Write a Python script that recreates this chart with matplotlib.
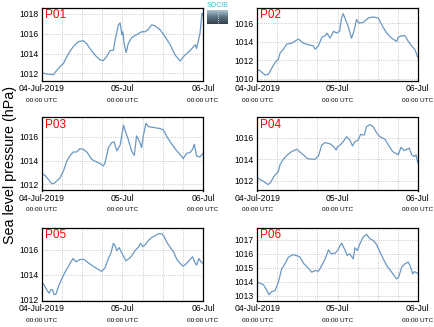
import matplotlib
matplotlib.use('Agg')
import matplotlib.pyplot as plt
import matplotlib.transforms as mtransforms
from matplotlib.colors import LinearSegmentedColormap
import numpy as np

plt.rcParams['font.family'] = ['Liberation Sans', 'DejaVu Sans']

# hours since 04-Jul-2019 00:00 UTC, pressure in hPa
p01_h = [0, 1.4, 3.4, 3.9, 5.4, 6.4, 7.4, 8.3, 9.3, 10.8, 12.3, 13.3, 14.3, 15.8, 17.3, 18.3,
         19.3, 20.3, 21.3, 21.8, 22.8, 23.3, 23.8, 24.1, 24.5, 25.1, 25.7, 26.7, 27.7, 28.7,
         29.7, 30.7, 31.7, 32.7, 33.7, 35.2, 36.7, 38.2, 39.7, 41.2, 42.2, 43.2, 44.7, 45.7,
         46.1, 47.1, 47.7, 48]
p01_v = [1012.07, 1011.93, 1011.87, 1012.1, 1012.7, 1013.0, 1013.7, 1014.2, 1014.7, 1015.2,
         1015.3, 1015.0, 1014.5, 1013.85, 1013.35, 1013.3, 1013.7, 1014.3, 1014.35, 1015.4,
         1016.9, 1017.1, 1015.9, 1016.2, 1015.0, 1014.1, 1015.0, 1015.6, 1015.8, 1016.0,
         1016.2, 1016.2, 1016.45, 1016.9, 1016.8, 1016.4, 1015.7, 1014.9, 1013.85, 1013.25,
         1013.7, 1014.0, 1014.5, 1014.9, 1014.5, 1016.05, 1018.05, 1017.9]

p02_h = [0, 0.8, 2.3, 3.3, 4.3, 5.3, 6.3, 6.8, 7.8, 8.8, 10.3, 12.3, 13.8, 15.3, 16.8, 17.3,
         18.3, 18.8, 19.3, 20.3, 20.8, 21.8, 22.8, 23.8, 24.6, 25.2, 25.7, 26.2, 27.2, 28.2,
         28.9, 29.7, 30.5, 31.7, 33.2, 34.7, 36.2, 37.5, 38.7, 40.2, 41.7, 42.2, 43.2, 44.2,
         45.2, 46.2, 47.2, 48]
p02_v = [1010.97, 1010.9, 1010.43, 1010.5, 1011.15, 1011.77, 1012.13, 1012.78, 1013.2, 1013.75,
         1013.86, 1014.3, 1013.86, 1013.68, 1013.57, 1013.2, 1013.57, 1014.04, 1014.5, 1014.66,
         1014.95, 1014.4, 1015.13, 1014.95, 1015.13, 1016.57, 1017.04, 1016.57, 1015.67, 1014.4,
         1015.13, 1016.4, 1016.03, 1016.1, 1016.57, 1016.68, 1016.57, 1015.67, 1014.95, 1014.4,
         1014.04, 1014.5, 1014.66, 1014.66, 1014.04, 1013.57, 1013.14, 1012.35]

p03_h = [0, 0.9, 1.9, 2.9, 3.4, 4.4, 5.4, 6.4, 7.4, 8.3, 9.3, 10.3, 11.3, 12.3, 13.5, 14.8,
         16.3, 17.3, 18.3, 18.8, 19.8, 20.8, 21.5, 22.3, 23.3, 24.3, 24.8, 25.7, 26.7, 27.5,
         28.2, 29.0, 29.7, 30.2, 31.0, 31.7, 33.2, 35.2, 36.2, 37.2, 38.7, 40.2, 41.7, 42.1,
         43.1, 44.1, 44.9, 45.4, 46.1, 47.1, 48]
p03_v = [1012.93, 1012.76, 1012.42, 1012.08, 1012.06, 1012.28, 1012.56, 1013.13, 1013.97,
         1014.39, 1014.73, 1014.73, 1015.01, 1014.96, 1014.68, 1014.11, 1013.89, 1013.75,
         1013.55, 1013.83, 1015.1, 1015.52, 1015.58, 1014.82, 1015.3, 1016.99, 1016.51,
         1015.8, 1014.82, 1014.45, 1016.08, 1015.66, 1015.1, 1016.08, 1017.15, 1016.87,
         1016.79, 1016.7, 1016.59, 1016.03, 1015.38, 1014.82, 1014.34, 1014.17, 1014.62,
         1014.68, 1014.96, 1015.38, 1014.39, 1014.31, 1014.62]

p04_h = [0, 0.8, 1.8, 3.3, 4.0, 5.0, 6.3, 6.8, 7.8, 9.0, 10.3, 11.8, 12.6, 13.8, 14.8, 15.8,
         17.3, 18.3, 19.3, 20.3, 21.8, 22.8, 23.6, 24.0, 24.8, 25.7, 26.7, 27.7, 28.5, 29.2,
         30.2, 30.9, 32.0, 32.7, 33.7, 34.7, 35.7, 36.7, 38.2, 39.2, 40.5, 41.7, 42.2, 43.0,
         43.9, 44.7, 45.5, 46.2, 47.0, 47.5, 48]
p04_v = [1012.31, 1012.09, 1011.94, 1011.63, 1011.85, 1012.4, 1012.86, 1013.48, 1014.0,
         1014.4, 1014.71, 1014.92, 1014.71, 1014.4, 1014.09, 1014.0, 1014.0, 1014.31, 1015.32,
         1015.54, 1015.42, 1015.17, 1014.86, 1015.17, 1015.32, 1015.63, 1016.09, 1015.78,
         1015.23, 1015.63, 1015.78, 1016.31, 1016.25, 1017.02, 1017.23, 1017.02, 1016.46,
         1016.09, 1015.85, 1015.32, 1014.71, 1014.49, 1014.4, 1015.11, 1014.8, 1014.92,
         1015.02, 1014.4, 1014.25, 1014.4, 1013.69]

p05_h = [0, 0.7, 1.4, 2.1, 2.6, 3.1, 3.6, 4.2, 4.9, 5.9, 6.9, 7.9, 8.6, 9.3, 10.1, 11.3, 12.5,
         13.8, 15.3, 16.8, 17.8, 18.8, 19.8, 20.5, 21.3, 21.8, 22.3, 23.0, 23.6, 24.3, 25.0,
         26.0, 26.7, 27.7, 28.7, 29.4, 30.0, 30.7, 31.7, 32.7, 33.7, 34.7, 35.7, 36.4, 37.2,
         38.2, 39.2, 40.2, 41.2, 42.1, 43.1, 44.1, 44.9, 45.6, 46.1, 46.8, 47.4, 48]
p05_v = [1013.42, 1013.15, 1012.81, 1012.54, 1012.81, 1012.83, 1012.43, 1012.48, 1013.07,
         1013.69, 1014.23, 1014.68, 1015.03, 1015.3, 1015.03, 1015.22, 1015.22, 1014.95,
         1014.68, 1014.42, 1014.28, 1014.55, 1015.3, 1015.7, 1016.51, 1016.3, 1015.92, 1016.16,
         1015.84, 1015.49, 1015.11, 1015.3, 1015.49, 1015.92, 1016.19, 1016.51, 1016.24,
         1016.38, 1016.72, 1016.97, 1017.1, 1017.26, 1017.26, 1017.05, 1016.59, 1016.19,
         1015.84, 1015.22, 1014.9, 1014.68, 1014.9, 1015.22, 1015.44, 1014.95, 1014.77,
         1015.3, 1015.03, 1014.9]

p06_h = [0, 0.8, 1.8, 2.8, 3.5, 4.3, 5.3, 6.3, 7.3, 8.3, 9.3, 10.6, 11.8, 12.8, 13.8, 15.0,
         16.3, 17.3, 18.3, 19.3, 20.3, 21.3, 22.0, 23.3, 24.0, 25.2, 26.2, 26.9, 27.7, 28.7,
         29.2, 30.0, 30.7, 31.7, 32.7, 33.7, 34.7, 35.7, 37.2, 38.7, 40.2, 41.7, 42.3, 43.2,
         44.2, 45.2, 45.9, 46.5, 47.0, 48]
p06_v = [1013.96, 1013.89, 1013.79, 1013.41, 1013.07, 1013.29, 1013.36, 1013.96, 1014.92,
         1015.28, 1015.75, 1015.93, 1015.87, 1015.75, 1015.32, 1015.04, 1014.68, 1014.8,
         1014.75, 1015.16, 1015.63, 1016.28, 1016.0, 1016.04, 1016.23, 1016.76, 1016.28,
         1015.87, 1016.0, 1015.63, 1016.43, 1016.23, 1016.71, 1017.19, 1017.38, 1017.07,
         1016.95, 1016.66, 1015.87, 1015.16, 1014.68, 1014.2, 1014.32, 1015.04, 1015.28,
         1015.4, 1015.04, 1014.56, 1014.72, 1014.6]

stations = ['P01', 'P02', 'P03', 'P04', 'P05', 'P06']
series = [(p01_h, p01_v), (p02_h, p02_v), (p03_h, p03_v),
          (p04_h, p04_v), (p05_h, p05_v), (p06_h, p06_v)]
yticks = [[1012, 1014, 1016, 1018], [1010, 1012, 1014, 1016], [1012, 1014, 1016],
          [1012, 1014, 1016], [1012, 1014, 1016], [1013, 1014, 1015, 1016, 1017]]
ylims = [(1011.23, 1018.6), (1009.78, 1017.65), (1011.49, 1017.63),
         (1011.08, 1017.88), (1011.92, 1017.72), (1012.62, 1017.84)]
date_labels = {0: '04-Jul-2019', 24: '05-Jul', 48: '06-Jul'}

fig = plt.figure(figsize=(4.35, 3.27), dpi=100)
W, H = 435.0, 327.0
lefts = [42, 257.3]
tops = [8, 117.5, 228]
ax_w = [161, 160.4]
ax_h = 73

for i, name in enumerate(stations):
    row, col = divmod(i, 2)
    ax = fig.add_axes([lefts[col] / W, 1 - (tops[row] + ax_h) / H, ax_w[col] / W, ax_h / H])
    h, v = series[i]
    ax.plot(h, v, color='#6a98c4', lw=0.9)
    ax.set_xlim(0, 48)
    ax.set_ylim(*ylims[i])
    xt = list(range(0, 49, 6))
    ax.set_xticks(xt)
    ax.set_xticklabels([date_labels.get(t, '') for t in xt], fontsize=6.2)
    ax.set_yticks(yticks[i])
    ax.set_yticklabels([str(t) for t in yticks[i]], fontsize=6.2)
    ax.tick_params(direction='in', length=0, pad=2.5)
    ax.grid(True, linestyle=':', color='#b8b8b8', lw=0.6)
    for s in ax.spines.values():
        s.set_linewidth(0.9)
    trans = mtransforms.blended_transform_factory(ax.transData, ax.transAxes)
    for t in date_labels:
        ax.text(t, -0.23, '00:00 UTC', transform=trans, ha='center', va='top', fontsize=4.6)
    ax.text(0.018, 0.985, name, transform=ax.transAxes, ha='left', va='top',
            fontsize=8.5, color='red')

fig.text(10 / W, 1 - 165 / H, 'Sea level pressure (hPa)', rotation=90,
         ha='center', va='center', fontsize=10.3)

# small logo block next to the first panel
logo = fig.add_axes([207 / W, 1 - 24 / H, 21 / W, 14 / H])
cmap = LinearSegmentedColormap.from_list('logo', ['#a9c4cf', '#5b7280', '#34444e'])
logo.imshow(np.linspace(0, 1, 20).reshape(-1, 1), aspect='auto', cmap=cmap)
logo.plot([0, 0], [4, 18], color='white', ls=':', lw=0.6)
logo.set_xlim(-0.5, 0.5)
logo.axis('off')
fig.text(217.5 / W, 1 - 5.5 / H, 'SOCIB', ha='center', va='center', fontsize=5,
         color='#3cc0d8')

fig.savefig('out.png', dpi=100)
